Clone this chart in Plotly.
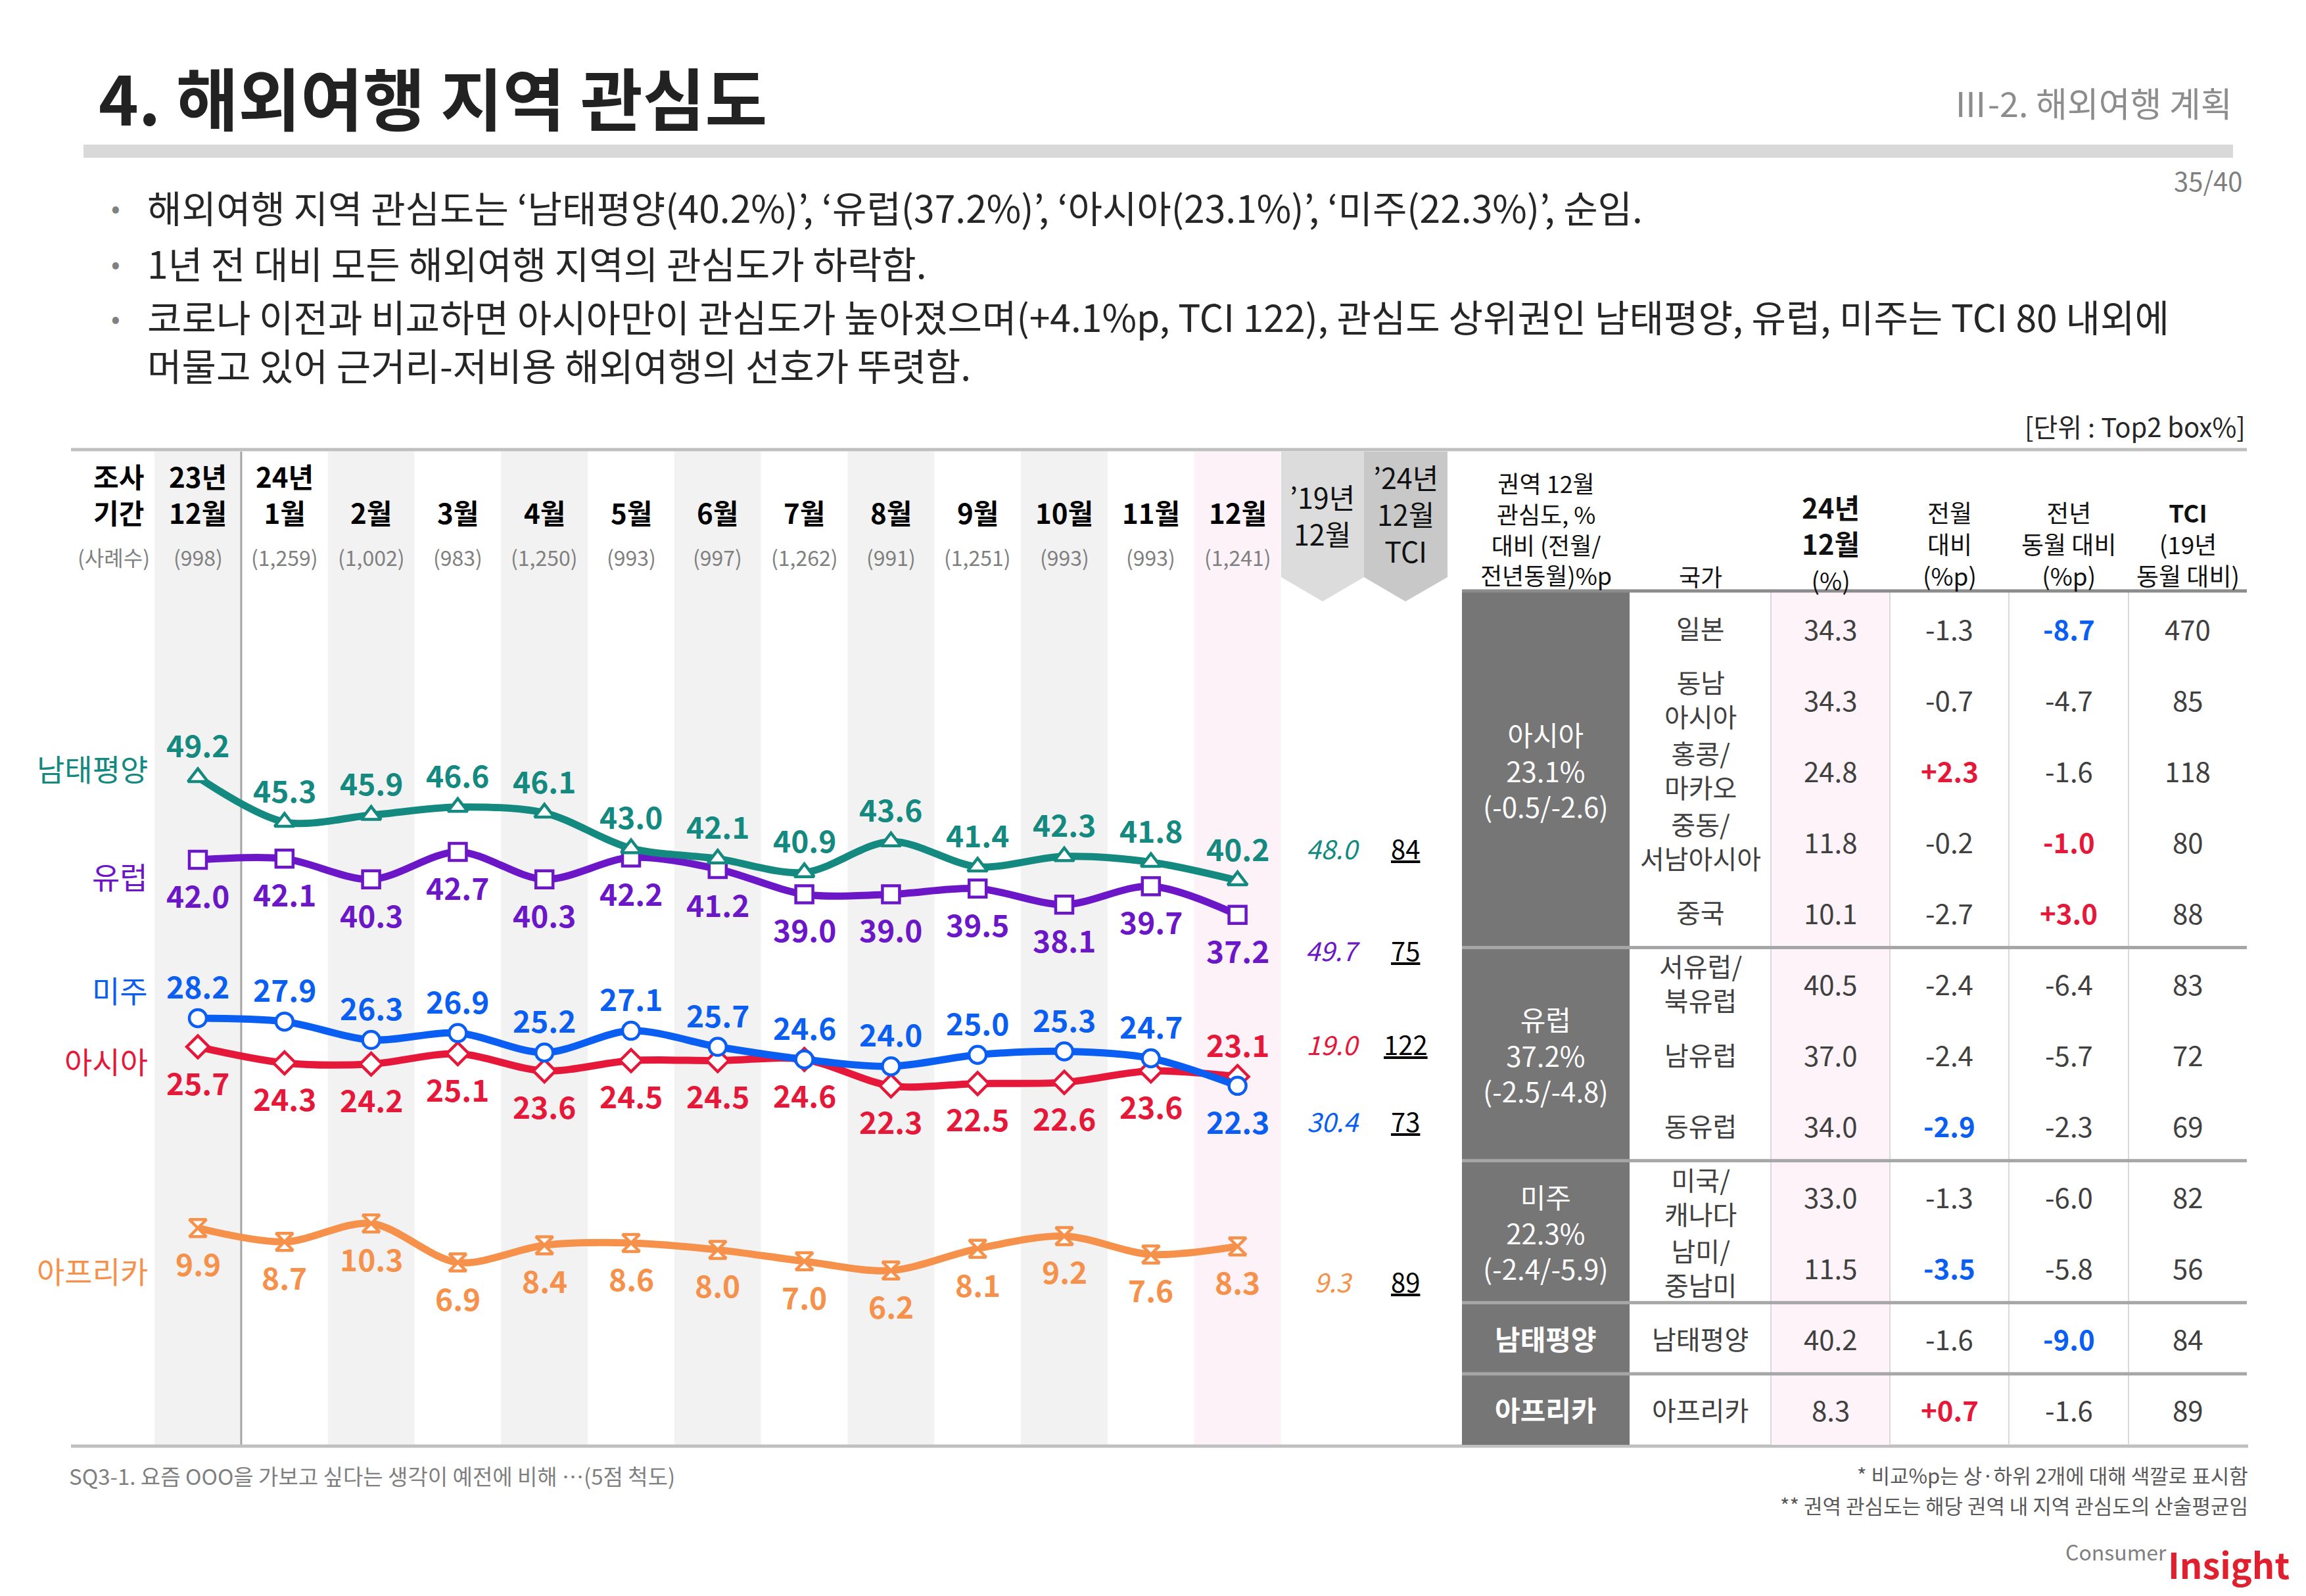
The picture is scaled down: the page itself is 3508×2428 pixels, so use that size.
import plotly.graph_objects as go

W, H = 3508, 2428
FONT = "Noto Sans CJK KR"

# ---------------- data ----------------
period_year = ["23년", "24년", "", "", "", "", "", "", "", "", "", "", ""]
period_month = ["12월", "1월", "2월", "3월", "4월", "5월", "6월", "7월", "8월", "9월", "10월", "11월", "12월"]
sample_sizes = ["(998)", "(1,259)", "(1,002)", "(983)", "(1,250)", "(993)", "(997)",
                "(1,262)", "(991)", "(1,251)", "(993)", "(993)", "(1,241)"]

series_names = ["남태평양", "유럽", "미주", "아시아", "아프리카"]
oceania = [49.2, 45.3, 45.9, 46.6, 46.1, 43.0, 42.1, 40.9, 43.6, 41.4, 42.3, 41.8, 40.2]
europe = [42.0, 42.1, 40.3, 42.7, 40.3, 42.2, 41.2, 39.0, 39.0, 39.5, 38.1, 39.7, 37.2]
americas = [28.2, 27.9, 26.3, 26.9, 25.2, 27.1, 25.7, 24.6, 24.0, 25.0, 25.3, 24.7, 22.3]
asia = [25.7, 24.3, 24.2, 25.1, 23.6, 24.5, 24.5, 24.6, 22.3, 22.5, 22.6, 23.6, 23.1]
africa = [9.9, 8.7, 10.3, 6.9, 8.4, 8.6, 8.0, 7.0, 6.2, 8.1, 9.2, 7.6, 8.3]
dec2019 = [48.0, 49.7, 30.4, 19.0, 9.3]
tci_2024 = [84, 75, 73, 122, 89]

region_names = ["아시아", "유럽", "미주", "남태평양", "아프리카"]
region_pct = ["23.1%", "37.2%", "22.3%", "", ""]
region_change = ["(-0.5/-2.6)", "(-2.5/-4.8)", "(-2.4/-5.9)", "", ""]
region_rows = [5, 3, 2, 1, 1]
countries = ["일본", "동남<br>아시아", "홍콩/<br>마카오", "중동/<br>서남아시아", "중국",
             "서유럽/<br>북유럽", "남유럽", "동유럽", "미국/<br>캐나다", "남미/<br>중남미",
             "남태평양", "아프리카"]
country_dec = [34.3, 34.3, 24.8, 11.8, 10.1, 40.5, 37.0, 34.0, 33.0, 11.5, 40.2, 8.3]
country_mom = [-1.3, -0.7, 2.3, -0.2, -2.7, -2.4, -2.4, -2.9, -1.3, -3.5, -1.6, 0.7]
country_yoy = [-8.7, -4.7, -1.6, -1.0, 3.0, -6.4, -5.7, -2.3, -6.0, -5.8, -9.0, -1.6]
country_tci = [470, 85, 118, 80, 88, 83, 72, 69, 82, 56, 84, 89]

bullets = [
    "해외여행 지역 관심도는 ‘남태평양(40.2%)’, ‘유럽(37.2%)’, ‘아시아(23.1%)’, ‘미주(22.3%)’, 순임.",
    "1년 전 대비 모든 해외여행 지역의 관심도가 하락함.",
    "코로나 이전과 비교하면 아시아만이 관심도가 높아졌으며(+4.1%p, TCI 122), 관심도 상위권인 남태평양, 유럽, 미주는 TCI 80 내외에"
    "<br>머물고 있어 근거리-저비용 해외여행의 선호가 뚜렷함.",
]

# ---------------- styles / layout constants ----------------
series_values = [oceania, europe, americas, asia, africa]
colors = ["#13897f", "#6b17c8", "#0b5ef2", "#e5183a", "#f5914a"]
symbols = ["triangle-up", "square", "circle", "diamond", "hourglass"]
label_up = [
    [True] * 13,
    [False] * 13,
    [True] * 12 + [False],
    [False] * 12 + [True],
    [False] * 13,
]
name_shift = [14, -24, 44, -20, -64]

X0, DX = 293.0, 131.8      # pixel x of first month, column step
Y0, DY = 2033.0, 17.45     # pixel y of value 0, pixels per unit


def P(x, y):
    return x / W, 1 - y / H


annotations = []
shapes = []


def text(x, y, s, size, color="#000000", xa="center", ya="middle", weight="normal", style="normal", align="center"):
    ax, ay = P(x, y)
    annotations.append(dict(x=ax, y=ay, xref="paper", yref="paper", text=s, showarrow=False,
                            xanchor=xa, yanchor=ya, align=align,
                            font=dict(family=FONT, size=size, color=color, weight=weight, style=style)))


def rect(x0, y0, x1, y1, color, layer="below"):
    a0, b0 = P(x0, y0)
    a1, b1 = P(x1, y1)
    shapes.append(dict(type="rect", xref="paper", yref="paper", x0=a0, y0=b0, x1=a1, y1=b1,
                       fillcolor=color, line=dict(width=0), layer=layer))


def line(x0, y0, x1, y1, color, width, layer="below"):
    a0, b0 = P(x0, y0)
    a1, b1 = P(x1, y1)
    shapes.append(dict(type="line", xref="paper", yref="paper", x0=a0, y0=b0, x1=a1, y1=b1,
                       line=dict(color=color, width=width), layer=layer))


def poly(pts, color):
    path = "M " + " L ".join(f"{x / W:.6f},{1 - y / H:.6f}" for x, y in pts) + " Z"
    shapes.append(dict(type="path", xref="paper", yref="paper", path=path,
                       fillcolor=color, line=dict(width=0), layer="below"))


# ---------------- header ----------------
text(140, 139, "<b>4. 해외여행 지역 관심도</b>", 103, "#222222", xa="left")
text(3390, 147, "Ⅲ-2. 해외여행 계획", 52, "#8c8c8c", xa="right")
rect(119, 212, 3389, 232, "#d9d9d9")
text(3405, 266, "35/40", 40, "#7f7f7f", xa="right")
for yy, dot_y, s in zip([306, 391, 509], [306, 391, 474], bullets):
    text(168, dot_y, "•", 40, "#808080")
    text(214, yy, s, 57, "#262626", xa="left", align="left")
text(3410, 640, "[단위 : Top2 box%]", 40, "#262626", xa="right")

# ---------------- chart background ----------------
TOP, BOT = 679, 2190
for i in range(13):
    cx = X0 + DX * i
    if i == 12:
        rect(cx - DX / 2, TOP, cx + DX / 2, BOT, "#fdf2f8")
    elif i % 2 == 0:
        rect(cx - DX / 2, TOP, cx + DX / 2, BOT, "#f2f2f2")
line(X0 + DX / 2, TOP, X0 + DX / 2, BOT, "#a6a6a6", 3)
line(100, 676, 3410, 676, "#bfbfbf", 5)
line(100, 2192, 3412, 2192, "#bfbfbf", 5)

# chevrons
poly([(1941, 679), (2067, 679), (2067, 870), (2004, 907), (1941, 870)], "#dcdcdc")
poly([(2067, 679), (2194, 679), (2194, 870), (2130, 907), (2067, 870)], "#c8c8c8")
text(2004, 775, "’19년<br>12월", 43, "#111111")
text(2130, 773, "’24년<br>12월<br>TCI", 43, "#111111")

# column headers
text(172, 743, "<b>조사<br>기간</b>", 42)
text(165, 839, "(사례수)", 32, "#808080")
for i in range(13):
    cx = X0 + DX * i
    if period_year[i]:
        text(cx, 743, f"<b>{period_year[i]}<br>{period_month[i]}</b>", 42)
    else:
        text(cx, 770, f"<b>{period_month[i]}</b>", 42)
    text(cx, 839, sample_sizes[i], 32, "#808080")

# ---------------- series ----------------
traces = []
xs = list(range(13))
for k in [4, 3, 2, 1, 0]:
    traces.append(go.Scatter(
        x=xs, y=series_values[k], mode="lines+markers", name=series_names[k],
        line=dict(color=colors[k], width=11, shape="spline", smoothing=0.9),
        marker=dict(symbol=symbols[k], size=26, color="white",
                    line=dict(color=colors[k], width=4.5)),
        hoverinfo="skip"))

for k in range(5):
    vals = series_values[k]
    for i, v in enumerate(vals):
        up = label_up[k][i]
        annotations.append(dict(x=i, y=v, xref="x", yref="y", text=f"<b>{v:.1f}</b>",
                                showarrow=False, yshift=50 if up else -53,
                                font=dict(family=FONT, size=46, color=colors[k])))
    # series name at left
    annotations.append(dict(x=219 / W, y=vals[0], xref="paper", yref="y", text=series_names[k],
                            showarrow=False, xanchor="right", yshift=name_shift[k],
                            font=dict(family=FONT, size=46, color=colors[k])))
    # 2019 value + TCI, aligned with the last label
    shift = 50 if label_up[k][12] else -53
    annotations.append(dict(x=2020 / W, y=vals[12], xref="paper", yref="y", text=f"{dec2019[k]:.1f}",
                            showarrow=False, yshift=shift,
                            font=dict(family=FONT, size=40, color=colors[k], style="italic")))
    annotations.append(dict(x=2130 / W, y=vals[12], xref="paper", yref="y", text=f"<u>{tci_2024[k]}</u>",
                            showarrow=False, yshift=shift,
                            font=dict(family=FONT, size=40, color="#000000")))

# ---------------- table ----------------
TX = [2216, 2471, 2686, 2867, 3048, 3230, 3410]
HY = 891
RY0 = 893
RH = (BOT - RY0) / 12
tc = [(TX[j] + TX[j + 1]) / 2 for j in range(6)]

# header
text(tc[0], 796, "권역 12월<br>관심도, %<br>대비 (전월/<br>전년동월)%p", 36, "#111111")
text(tc[1], 868, "국가", 36, "#111111")
text(tc[2], 817, "<b>24년<br>12월</b><br><span style='font-size:37px'>(%)</span>", 42, "#111111")
text(tc[3], 819, "전월<br>대비<br>(%p)", 37, "#111111")
text(tc[4], 819, "전년<br>동월 대비<br>(%p)", 37, "#111111")
text(tc[5], 819, "<b>TCI</b><br>(19년<br>동월 대비)", 37, "#111111")

# fills
rect(TX[0], HY, TX[1], BOT, "#767676")
rect(TX[2], HY, TX[3], BOT, "#fdf3f8")
for j in [2, 3, 4, 5]:
    line(TX[j], HY, TX[j], BOT, "#d9d9d9", 2)
line(TX[0], HY, TX[6], HY, "#8c8c8c", 5)


def signed(v):
    return f"+{v:.1f}" if v > 0 else f"{v:.1f}"


def highlight(vals):
    order = sorted(range(len(vals)), key=lambda i: vals[i])
    cols = ["#404040"] * len(vals)
    for i in order[:2]:
        cols[i] = "#0b5ef2"
    for i in order[-2:]:
        cols[i] = "#e5183a"
    return cols


mom_cols = highlight(country_mom)
yoy_cols = highlight(country_yoy)

for r in range(12):
    cy = RY0 + RH * (r + 0.5)
    text(tc[1], cy, countries[r], 40, "#404040")
    text(tc[2], cy, f"{country_dec[r]:.1f}", 42, "#404040")
    w = "bold" if mom_cols[r] != "#404040" else "normal"
    text(tc[3], cy, signed(country_mom[r]), 42, mom_cols[r], weight=w)
    w = "bold" if yoy_cols[r] != "#404040" else "normal"
    text(tc[4], cy, signed(country_yoy[r]), 42, yoy_cols[r], weight=w)
    text(tc[5], cy, f"{country_tci[r]}", 42, "#404040")

start = 0
for g, n in enumerate(region_rows):
    cy = RY0 + RH * (start + n / 2)
    if region_pct[g]:
        text(tc[0], cy, f"{region_names[g]}<br>{region_pct[g]}<br>{region_change[g]}", 42, "#ffffff")
    else:
        text(tc[0], cy, f"<b>{region_names[g]}</b>", 42, "#ffffff")
    start += n
    if start < 12:
        yy = RY0 + RH * start
        line(TX[0], yy, TX[6], yy, "#a6a6a6", 5)

# ---------------- footer ----------------
text(95, 2237, "SQ3-1. 요즘 OOO을 가보고 싶다는 생각이 예전에 비해 …(5점 척도)", 33, "#7f7f7f", xa="left")
text(3414, 2235, "* 비교%p는 상·하위 2개에 대해 색깔로 표시함", 31, "#595959", xa="right")
text(3414, 2281, "** 권역 관심도는 해당 권역 내 지역 관심도의 산술평균임", 31, "#595959", xa="right")
text(3290, 2352, "Consumer", 32, "#7f7f7f", xa="right")
text(3288, 2370, "<b>Insight</b>", 54, "#e0202f", xa="left")

fig = go.Figure(traces)
fig.update_layout(
    width=W, height=H, margin=dict(l=0, r=0, t=0, b=0),
    paper_bgcolor="white", plot_bgcolor="rgba(0,0,0,0)", showlegend=False,
    xaxis=dict(range=[(0 - X0) / DX, (W - X0) / DX], visible=False, fixedrange=True),
    yaxis=dict(range=[(Y0 - H) / DY, Y0 / DY], visible=False, fixedrange=True),
    annotations=annotations, shapes=shapes,
    font=dict(family=FONT),
)
fig.write_html("out.html")
